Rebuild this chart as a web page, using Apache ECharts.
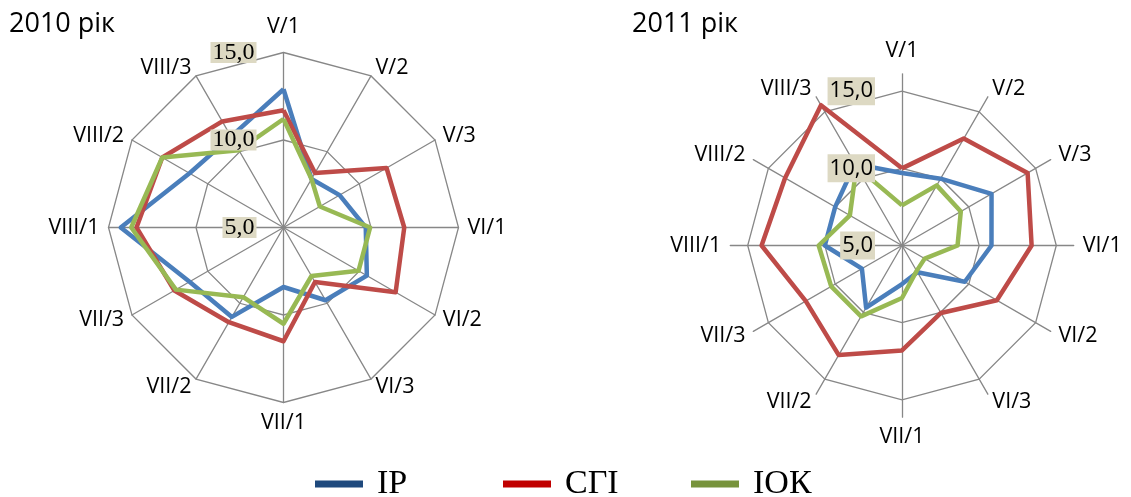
<!DOCTYPE html>
<html><head><meta charset="utf-8">
<script src="https://cdn.jsdelivr.net/npm/echarts@6/dist/echarts.min.js"></script>
<style>html,body{margin:0;padding:0;background:#fff}#c{width:1131px;height:497px}</style>
</head><body><div id="c"></div>
<script>
// ---- data ----
const categories = ['V/1','V/2','V/3','VI/1','VI/2','VI/3','VII/1','VII/2','VII/3','VIII/1','VIII/2','VIII/3'];
const seriesNames = ['IP','СГІ','ІОК'];
const titles = ['2010 рік','2011 рік'];
const ip2010  = [12.9, 8.2, 8.7, 9.7, 10.5, 9.8, 8.4, 10.9, 11.2, 14.3, 11.2, 11.0];
const sgi2010 = [11.7, 8.6, 11.8, 11.9, 12.4, 8.6, 11.5, 11.25, 12.2, 13.4, 13.0, 12.0];
const iok2010 = [11.2, 8.2, 7.4, 9.95, 9.95, 8.2, 10.5, 9.6, 12.1, 13.7, 13.0, 10.1];
const ip2011  = [9.7, 10.0, 11.7, 10.8, 9.7, 7.0, 7.5, 9.65, 8.0, 10.0, 10.0, 11.1];
const sgi2011 = [10.0, 13.0, 14.4, 13.4, 12.1, 10.05, 11.8, 13.2, 12.2, 14.1, 13.75, 15.5];
const iok2011 = [7.6, 9.5, 9.4, 8.6, 6.7, 6.9, 8.4, 10.3, 10.3, 10.4, 8.9, 10.9];
const axisMin = 5, axisMax = 15, axisSplit = 2;
const axisMaxExt2011 = 16.13;

// ---- styles ----
const lineColors = ['#4A7EBB', '#BE4B48', '#98B954'];
const legendColors = ['#1F497D', '#C00000', '#77933C'];
const gridColor = '#878787';
const nameFont = 'Open Sans';

const chart = echarts.init(document.getElementById('c'), null, {renderer: 'canvas'});

function labelFmt(v) { return v.toFixed(1).replace('.', ','); }
// ECharts radar runs counter-clockwise; reorder so categories run clockwise from the top.
function cw(arr) { const n = arr.length; return arr.map((_, i) => arr[(n - i) % n]); }

function indicators(max, labelStyle, topGap) {
  return cw(categories).map((c, i) => {
    const o = {name: c, min: axisMin, max: max};
    if (labelStyle) o.axisLabel = Object.assign({show: i === 0}, labelStyle);
    if (topGap != null && i === 0) o.nameGap = topGap;
    return o;
  });
}

const serifLabel = {
  formatter: labelFmt, margin: 27, color: '#000', fontFamily: 'Liberation Serif', fontSize: 24,
  backgroundColor: '#DDD9C3', padding: [0, 2], lineHeight: 21
};
const sansLabel = {
  formatter: labelFmt, margin: 27, color: '#000', fontFamily: nameFont, fontSize: 22,
  backgroundColor: '#DDD9C3', padding: [2, 2], lineHeight: 24
};
const gridLine = {lineStyle: {color: gridColor, width: 1.3}};
const axisName = {color: '#000', fontFamily: nameFont, fontSize: 21.5};
const hidden = {axisName: {show: false}, splitLine: {show: false}, splitArea: {show: false},
  axisLine: {show: false}, axisTick: {show: false}};

function seriesData(arrs) {
  return arrs.map((a, k) => ({
    name: seriesNames[k], value: cw(a),
    lineStyle: {color: lineColors[k], width: 4.5},
    itemStyle: {color: lineColors[k]}
  }));
}

const c2010 = [283.5, 227.5], r2010 = 175;
const c2011 = [902, 245.5], r2011 = 154.3, r2011ext = 171.7;

chart.setOption({
  animation: false,
  title: [
    {text: titles[0], left: 9, top: 11, padding: 0, textStyle: {fontFamily: nameFont, fontSize: 27, fontWeight: 'normal', color: '#000'}},
    {text: titles[1], left: 632, top: 11, padding: 0, textStyle: {fontFamily: nameFont, fontSize: 27, fontWeight: 'normal', color: '#000'}}
  ],
  legend: {
    left: 315, top: 467, icon: 'rect', itemWidth: 48, itemHeight: 7, itemGap: 16,
    selectedMode: false, padding: 0,
    data: seriesNames.map((n, k) => ({name: n, itemStyle: {color: legendColors[k], borderWidth: 0}})),
    textStyle: {fontFamily: 'Liberation Serif', fontSize: 34, lineHeight: 34, color: '#000', padding: [0, 0, 0, 9], width: 110}
  },
  radar: [
    { // 0: 2010 grid + data
      center: c2010, radius: r2010, startAngle: 90, shape: 'polygon', splitNumber: axisSplit,
      indicator: indicators(axisMax, null, 15),
      axisName: axisName, nameGap: 9,
      splitLine: gridLine, splitArea: {show: false}, axisLine: gridLine, axisTick: {show: false},
      axisLabel: {show: false}
    },
    { // 1: 2011 grid + data
      center: c2011, radius: r2011, startAngle: 90, shape: 'polygon', splitNumber: axisSplit,
      indicator: indicators(axisMax),
      axisName: {show: false},
      splitLine: gridLine, splitArea: {show: false}, axisLine: {show: false}, axisTick: {show: false},
      axisLabel: {show: false}
    },
    { // 2: 2011 extended axes + names
      center: c2011, radius: r2011ext, startAngle: 90, shape: 'polygon', splitNumber: 1,
      indicator: indicators(axisMaxExt2011, null, 12),
      axisName: axisName, nameGap: 9,
      splitLine: {show: false}, splitArea: {show: false}, axisLine: gridLine, axisTick: {show: false},
      axisLabel: {show: false}
    },
    Object.assign({ // 3: 2010 value labels (above lines)
      z: 10, center: c2010, radius: r2010, startAngle: 90, shape: 'polygon', splitNumber: axisSplit,
      indicator: indicators(axisMax, serifLabel), axisLabel: {show: false}
    }, hidden),
    Object.assign({ // 4: 2011 value labels (above lines)
      z: 10, center: c2011, radius: r2011, startAngle: 90, shape: 'polygon', splitNumber: axisSplit,
      indicator: indicators(axisMax, sansLabel), axisLabel: {show: false}
    }, hidden)
  ],
  series: [
    {type: 'radar', radarIndex: 0, symbol: 'none', z: 3, data: seriesData([ip2010, sgi2010, iok2010])},
    {type: 'radar', radarIndex: 1, symbol: 'none', z: 3, data: seriesData([ip2011, sgi2011, iok2011])}
  ]
});
</script>
</body></html>
